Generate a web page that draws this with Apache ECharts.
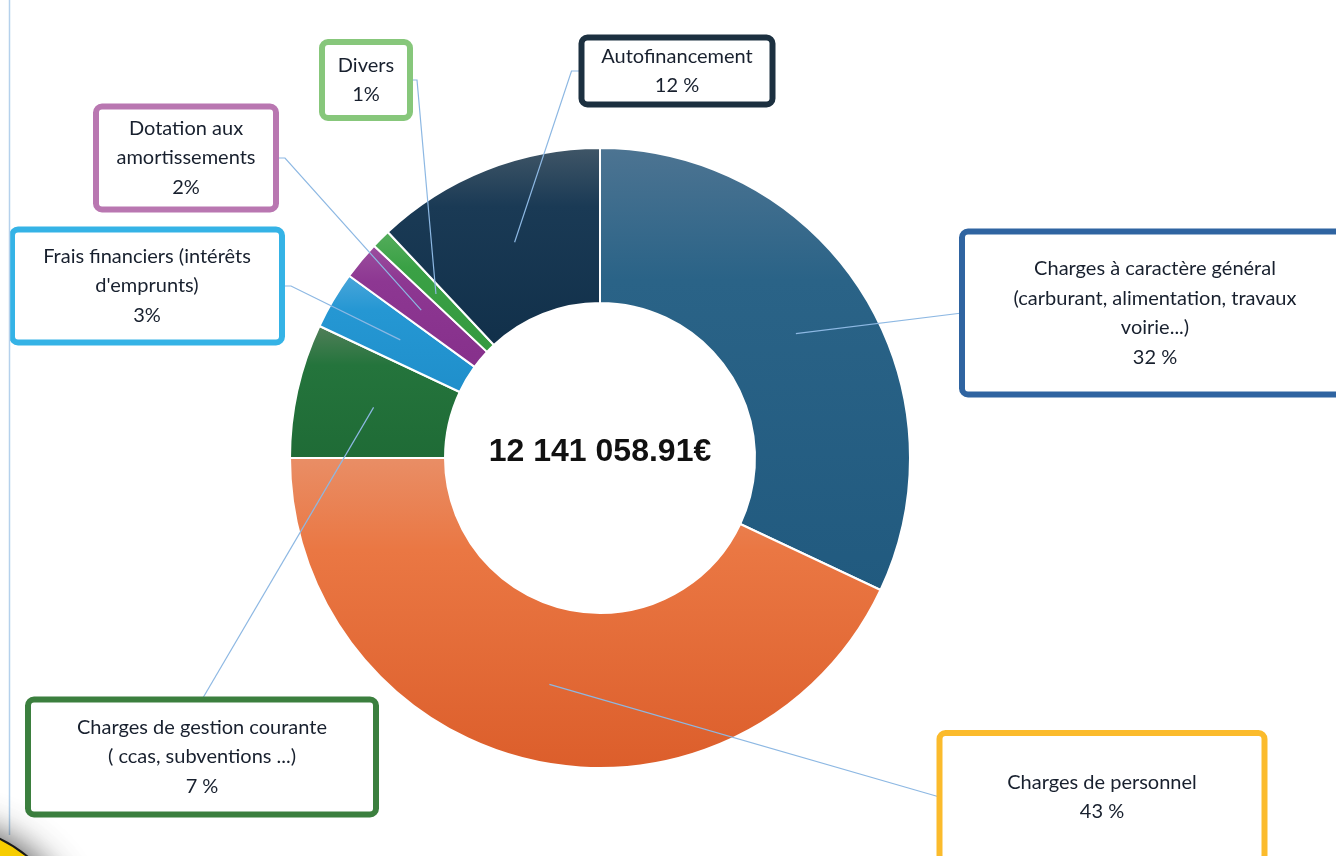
<!DOCTYPE html>
<html>
<head>
<meta charset="utf-8">
<title>Dépenses de fonctionnement</title>
<script src="https://cdn.jsdelivr.net/npm/echarts@6/dist/echarts.min.js"></script>
<style>
  html, body { margin: 0; padding: 0; background: #fff; }
  #chart { width: 1336px; height: 856px; }
</style>
</head>
<body>
<div id="chart"></div>
<script>
// postes (retours à la ligne comme sur l'original)
const categories = [
  "Charges à caractère général\n(carburant, alimentation, travaux\nvoirie...)",
  "Charges de personnel",
  "Charges de gestion courante\n( ccas, subventions ...)",
  "Frais financiers (intérêts\nd'emprunts)",
  "Dotation aux\namortissements",
  "Divers",
  "Autofinancement"
];
const shares = [32, 43, 7, 3, 2, 1, 12];
const shareLabels = ["32 %", "43 %", "7 %", "3%", "2%", "1%", "12 %"];
const totalLabel = "12 141 058.91€";

// dégradés des parts : haut, milieu, bas
const sliceColors = [
  ["#4d7492", "#2a6387", "#215a7f"],
  ["#e98e66", "#ea7743", "#dc5e2b"],
  ["#527f5a", "#24743c", "#1f6b36"],
  ["#4aa6da", "#2597d3", "#1f8fcb"],
  ["#9c4f9e", "#8d3792", "#86308b"],
  ["#55ad5c", "#3aa145", "#35993f"],
  ["#405667", "#1a3a55", "#11304a"]
];
const boxColors = ["#2f64a1", "#fbbb2c", "#3b7f3e", "#35b3e6", "#b977b1", "#87c77b", "#1c3040"];

// cadres des étiquettes : centre, taille extérieure, côté où arrive le trait
const boxes = [
  { cx: 1155, cy: 313, w: 386, h: 163, side: "left" },
  { cx: 1102, cy: 797, w: 325, h: 128, side: "left" },
  { cx: 202, cy: 757, w: 348, h: 115, side: "top" },
  { cx: 147, cy: 286, w: 270, h: 113, side: "right", elbow: 9 },
  { cx: 186, cy: 158, w: 180, h: 103, side: "right", elbow: 9 },
  { cx: 366, cy: 80, w: 88, h: 76, side: "right", elbow: 7 },
  { cx: 677, cy: 71, w: 191, h: 67, side: "left", elbow: 10 }
];

const LH = 29.5;
const BW = 6;
const CENTER = [600, 458];

const chart = echarts.init(document.getElementById("chart"));

const ringData = shares.map((v, i) => ({
  name: categories[i],
  value: v,
  itemStyle: {
    color: new echarts.graphic.LinearGradient(0, 0, 0, 1, [
      { offset: 0, color: sliceColors[i][0] },
      { offset: 0.3, color: sliceColors[i][1] },
      { offset: 1, color: sliceColors[i][2] }
    ])
  }
}));

const labelData = shares.map((v, i) => {
  const b = boxes[i];
  const text = categories[i] + "\n" + shareLabels[i];
  const lines = text.split("\n").length;
  const pv = (b.h - BW - lines * LH) / 2;
  return {
    name: categories[i],
    value: v,
    label: {
      formatter: text,
      width: b.w - BW,
      padding: [pv, 0, pv, 0],
      borderColor: boxColors[i],
      borderWidth: BW,
      borderRadius: 3
    }
  };
});

chart.setOption({
  animation: false,
  backgroundColor: "#ffffff",
  series: [
    {
      name: "Dépenses",
      type: "pie",
      z: 2,
      silent: true,
      center: CENTER,
      radius: [155, 310],
      startAngle: 90,
      clockwise: true,
      itemStyle: { borderColor: "#ffffff", borderWidth: 2 },
      label: { show: false },
      labelLine: { show: false },
      emphasis: { disabled: true },
      data: ringData
    },
    {
      // même découpage, rayon au milieu de l'anneau : sert d'ancrage aux traits
      name: "Étiquettes",
      type: "pie",
      z: 3,
      silent: true,
      center: CENTER,
      radius: [0, 232],
      startAngle: 90,
      clockwise: true,
      avoidLabelOverlap: false,
      itemStyle: { color: "rgba(0,0,0,0)", borderWidth: 0 },
      label: {
        show: true,
        position: "outside",
        backgroundColor: "#ffffff",
        color: "#18202e",
        fontFamily: "Lato",
        fontSize: 20,
        lineHeight: LH,
        align: "center",
        overflow: "none"
      },
      labelLine: {
        show: true,
        length: 10,
        length2: 10,
        lineStyle: { color: "#8db8e3", width: 1.2 }
      },
      labelLayout: function (params) {
        const b = boxes[params.dataIndex];
        const out = { x: b.cx, y: b.cy, align: "center", verticalAlign: "middle" };
        const pts = params.labelLinePoints;
        if (pts && pts.length) {
          let end, dir = 0;
          if (b.side === "left") { end = [b.cx - b.w / 2, b.cy]; dir = -1; }
          else if (b.side === "right") { end = [b.cx + b.w / 2, b.cy]; dir = 1; }
          else { end = [b.cx, b.cy - b.h / 2]; }
          const line = [pts[0]];
          if (b.elbow) line.push([end[0] + dir * b.elbow, end[1]]);
          line.push(end);
          out.labelLinePoints = line;
        }
        return out;
      },
      emphasis: { disabled: true },
      data: labelData
    }
  ],
  graphic: [
    {
      type: "text",
      x: CENTER[0],
      y: 452,
      z: 10,
      style: {
        text: totalLabel,
        fill: "#111111",
        font: 'bold 32px "Liberation Sans", Arial, sans-serif',
        align: "center",
        verticalAlign: "middle"
      }
    },
    {
      type: "line",
      z: 10,
      shape: { x1: 9.5, y1: 0, x2: 9.5, y2: 835 },
      style: { stroke: "#b5d1ec", lineWidth: 1.5 }
    },
    {
      type: "circle",
      z: 20,
      shape: { cx: -60, cy: 962, r: 137 },
      style: {
        fill: "#ffd400",
        stroke: "#1a1a1a",
        lineWidth: 2,
        shadowBlur: 35,
        shadowColor: "rgba(0,0,0,0.75)"
      }
    }
  ]
});
</script>
</body>
</html>
